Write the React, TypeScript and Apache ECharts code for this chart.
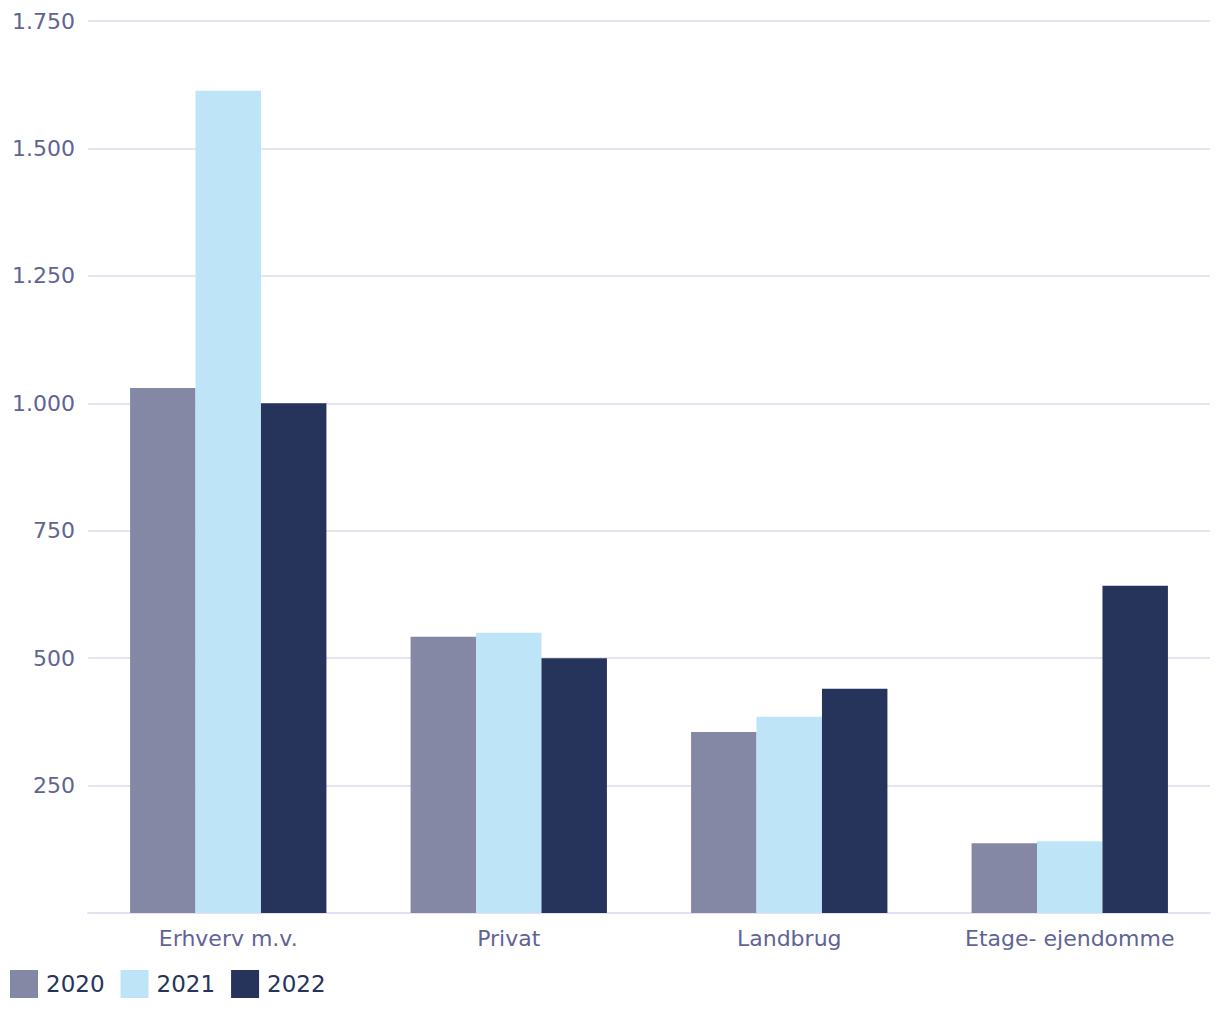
import React, { useEffect, useRef } from "react";
import * as echarts from "echarts";

const categories = ["Erhverv m.v.", "Privat", "Landbrug", "Etage- ejendomme"];
const years = ["2020", "2021", "2022"];
const values2020 = [1030, 542, 355, 137];
const values2021 = [1613, 550, 385, 141];
const values2022 = [1000, 500, 440, 642];
const colors = ["#8488a5", "#bde4f7", "#26345c"];

export default function App() {
  const ref = useRef<HTMLDivElement>(null);
  useEffect(() => {
    if (!ref.current) return;
    const chart = echarts.init(ref.current, undefined, { renderer: "svg" });
    const font = "'DejaVu Sans', 'Noto Sans', sans-serif";
    const data = [values2020, values2021, values2022];
    chart.setOption({
      animation: false,
      color: colors,
      grid: { left: 88, right: 10, top: 21, bottom: 107, containLabel: false },
      legend: {
        left: 5,
        top: 965,
        itemWidth: 28,
        itemHeight: 28,
        itemGap: 16,
        icon: "rect",
        data: years,
        textStyle: { color: "#26345c", fontSize: 23, fontFamily: font, padding: [0, 0, 0, 3] },
      },
      xAxis: {
        type: "category",
        data: categories,
        axisTick: { show: false },
        axisLine: { lineStyle: { color: "#e4e2f0", width: 2 } },
        axisLabel: { color: "#5f6495", fontSize: 22, fontFamily: font, margin: 14 },
      },
      yAxis: {
        type: "value",
        min: 0,
        max: 1750,
        interval: 250,
        axisLine: { show: false },
        axisTick: { show: false },
        splitLine: { lineStyle: { color: "#e6e4f1", width: 2 } },
        axisLabel: {
          color: "#5f6495",
          fontSize: 22,
          fontFamily: font,
          margin: 13,
          formatter: (v: number) => (v === 0 ? "" : v.toLocaleString("da-DK")),
        },
      },
      series: years.map((y, i) => ({
        name: y,
        type: "bar",
        data: data[i],
        barGap: "0%",
        barCategoryGap: "30%",
        itemStyle: { color: colors[i] },
      })),
    });
    return () => chart.dispose();
  }, []);
  return (
    <div
      ref={ref}
      style={{ position: "absolute", left: 0, top: 0, width: 1220, height: 1020, background: "#fff" }}
    />
  );
}
